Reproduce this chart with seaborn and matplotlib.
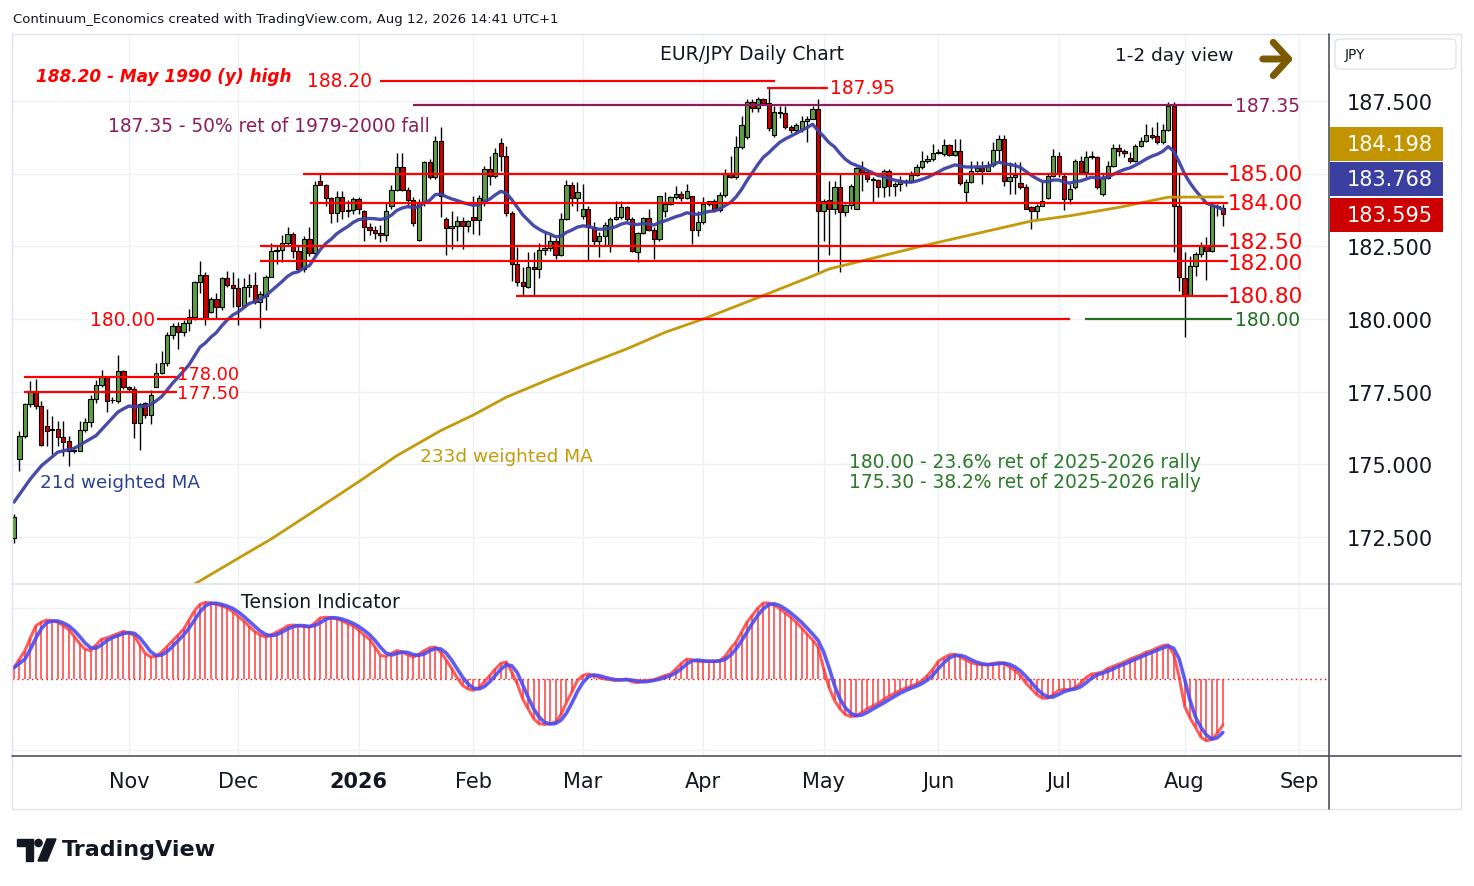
import numpy as np
import pandas as pd
import seaborn as sns
import matplotlib.pyplot as plt
from matplotlib import transforms
from matplotlib.lines import Line2D
from matplotlib.patches import Rectangle, FancyBboxPatch, FancyArrowPatch, Circle, Polygon
from matplotlib.ticker import FuncFormatter

sns.set_theme(style="white")
plt.rcParams['font.family'] = ['DejaVu Sans']

# ---------------- data (EUR/JPY daily) ----------------
open_ = [172.45, 175.18, 175.99, 177.08, 177.48, 177.00, 176.32, 176.22, 176.22, 175.93,
         175.80, 175.47, 175.45, 176.19, 176.44, 177.25, 177.73, 178.00, 177.20, 177.19,
         178.22, 177.65, 177.60, 176.42, 177.10, 176.70, 177.65, 178.14, 178.50, 179.45,
         179.75, 179.54, 179.86, 180.06, 181.27, 181.50, 180.24, 180.69, 180.40, 181.40,
         181.18, 181.07, 180.44, 181.09, 181.17, 180.57, 180.78, 181.43, 182.33, 182.37,
         182.60, 182.92, 182.33, 181.72, 182.75, 182.26, 184.74, 184.62, 184.15, 183.65,
         184.19, 183.76, 183.76, 184.13, 183.70, 183.18, 183.06, 182.96, 182.89, 183.90,
         184.44, 185.22, 184.44, 184.10, 182.73, 184.04, 185.39, 184.87, 186.13, 183.44,
         183.12, 183.19, 183.36, 183.21, 183.50, 183.42, 184.00, 185.16, 184.91, 186.04,
         185.60, 183.64, 181.89, 181.26, 181.09, 181.80, 181.72, 182.37, 182.43, 182.67,
         182.20, 183.43, 184.61, 184.15, 183.55, 183.80, 183.15, 182.67, 182.86, 182.52,
         183.44, 183.50, 183.84, 183.44, 182.29, 182.95, 183.46, 183.06, 182.75, 183.73,
         183.96, 184.19, 184.30, 184.15, 184.22, 183.07, 183.33, 183.96, 184.05, 183.76,
         184.27, 184.99, 184.87, 185.90, 186.26, 187.45, 187.26, 187.57, 187.42, 186.33,
         187.13, 187.08, 186.62, 186.50, 186.54, 186.80, 186.88, 187.22, 183.70, 184.09,
         183.78, 184.55, 183.67, 183.93, 183.80, 185.18, 185.05, 184.82, 184.79, 184.53,
         185.10, 184.56, 184.66, 184.70, 184.70, 184.95, 185.24, 185.42, 185.50, 185.70,
         185.67, 185.98, 185.64, 185.77, 184.36, 184.70, 185.08, 185.18, 185.10, 185.30,
         185.82, 186.19, 184.73, 184.87, 184.67, 184.55, 183.84, 183.73, 183.90, 184.15,
         184.93, 185.62, 184.93, 184.13, 184.53, 185.42, 185.05, 185.57, 185.57, 184.30,
         184.84, 185.26, 185.87, 185.78, 185.54, 185.42, 185.96, 186.11, 186.34, 186.30,
         186.08, 186.51, 187.32, 183.87, 181.40, 180.83, 181.81, 182.22, 182.52, 182.33,
         183.87, 183.82]

high = [173.30, 176.16, 177.10, 177.88, 177.94, 177.19, 176.90, 176.67, 176.50, 176.50,
        175.98, 175.60, 176.50, 176.60, 177.40, 177.90, 178.24, 178.05, 177.30, 178.77,
        178.25, 177.70, 177.70, 177.10, 177.15, 177.55, 178.50, 178.90, 179.55, 179.85,
        179.90, 179.98, 180.35, 181.30, 182.00, 181.60, 180.75, 180.90, 181.45, 181.65,
        181.60, 181.40, 181.40, 181.55, 181.60, 180.95, 181.50, 182.60, 182.56, 182.88,
        183.15, 183.00, 182.50, 182.85, 183.15, 184.75, 185.00, 184.65, 184.20, 184.40,
        184.40, 184.10, 184.20, 184.20, 183.75, 183.30, 183.20, 183.25, 183.98, 184.60,
        185.70, 185.70, 184.55, 184.20, 184.12, 185.45, 185.50, 186.30, 186.60, 183.50,
        183.70, 183.55, 183.50, 183.40, 184.24, 184.25, 185.25, 185.60, 185.88, 186.23,
        185.95, 183.70, 182.47, 181.79, 182.29, 182.29, 182.60, 183.00, 182.90, 182.80,
        183.65, 184.78, 184.70, 184.70, 184.64, 183.90, 183.33, 182.99, 183.33, 183.50,
        184.07, 184.07, 183.90, 183.50, 182.98, 183.50, 183.78, 183.15, 184.24, 184.36,
        184.24, 184.59, 184.42, 184.64, 184.24, 183.73, 184.19, 184.07, 184.13, 184.36,
        185.16, 185.62, 186.30, 186.99, 187.57, 187.57, 187.63, 187.60, 187.95, 187.34,
        187.34, 187.34, 186.68, 186.74, 187.00, 186.99, 187.34, 187.58, 184.13, 184.76,
        184.76, 185.00, 183.96, 184.64, 185.22, 185.45, 185.10, 184.87, 184.82, 185.16,
        185.16, 184.70, 184.93, 184.82, 185.10, 185.33, 185.77, 185.65, 186.02, 185.85,
        186.19, 186.02, 186.19, 186.19, 184.82, 185.45, 185.45, 185.45, 185.45, 186.08,
        186.33, 186.33, 185.39, 185.39, 185.39, 184.64, 183.90, 183.96, 184.76, 184.99,
        185.85, 185.73, 184.99, 184.64, 185.50, 185.62, 185.79, 185.79, 185.60, 184.99,
        185.45, 186.02, 186.02, 185.85, 185.73, 186.02, 186.25, 186.71, 186.60, 186.77,
        186.71, 187.45, 187.45, 185.00, 182.30, 182.18, 182.29, 182.64, 182.81, 183.90,
        183.96, 183.96]

low = [172.30, 174.78, 175.90, 176.97, 176.90, 175.62, 175.64, 175.36, 175.64, 175.30,
       174.95, 175.40, 175.45, 176.10, 176.30, 177.10, 177.65, 176.80, 177.10, 177.10,
       177.60, 177.50, 175.90, 175.48, 176.60, 176.40, 177.65, 178.10, 178.40, 179.30,
       178.96, 179.40, 179.60, 179.95, 180.90, 179.80, 180.20, 180.05, 180.30, 181.10,
       180.40, 179.80, 180.40, 180.75, 180.50, 179.70, 180.30, 181.43, 181.90, 181.95,
       182.55, 182.10, 181.65, 181.60, 182.15, 182.15, 184.60, 183.90, 183.30, 183.35,
       183.45, 183.50, 183.60, 183.60, 182.70, 182.90, 182.75, 182.65, 182.70, 183.80,
       184.40, 184.40, 183.90, 183.20, 182.70, 183.90, 184.80, 184.80, 183.50, 182.20,
       182.40, 182.70, 182.40, 183.00, 182.92, 182.90, 183.90, 184.60, 184.85, 185.10,
       183.55, 181.32, 181.15, 180.80, 181.05, 180.80, 181.40, 182.20, 182.35, 182.05,
       182.15, 183.40, 183.90, 183.70, 183.45, 182.00, 182.52, 182.13, 182.52, 182.30,
       183.40, 183.44, 183.38, 182.29, 181.95, 182.92, 183.04, 182.06, 182.69, 183.50,
       183.93, 184.13, 184.07, 184.13, 182.58, 182.87, 183.27, 183.90, 183.67, 183.67,
       184.19, 184.85, 184.82, 185.85, 186.19, 187.11, 187.11, 187.35, 186.48, 186.25,
       186.90, 186.55, 186.40, 186.35, 186.42, 186.08, 186.88, 181.55, 182.69, 182.20,
       183.60, 181.60, 183.55, 183.78, 183.78, 184.41, 184.70, 184.04, 184.19, 184.19,
       184.22, 184.22, 184.41, 184.56, 184.67, 184.93, 185.16, 185.36, 185.45, 185.67,
       185.62, 185.60, 185.62, 184.60, 184.04, 184.68, 185.05, 184.65, 185.10, 185.22,
       185.45, 184.58, 184.30, 184.30, 184.47, 183.78, 183.10, 183.44, 183.90, 184.13,
       184.87, 184.90, 183.76, 183.96, 184.47, 184.99, 184.87, 185.50, 184.47, 184.24,
       184.82, 185.22, 185.62, 185.56, 185.37, 185.40, 185.90, 186.08, 186.19, 186.02,
       186.02, 186.48, 182.30, 180.98, 179.37, 180.80, 181.49, 182.12, 181.35, 182.29,
       183.55, 183.19]

close = [173.19, 175.99, 177.08, 177.48, 177.02, 175.68, 176.16, 176.18, 175.93, 175.78,
         175.47, 175.50, 176.19, 176.44, 177.25, 177.73, 178.00, 177.19, 177.22, 178.22,
         177.65, 177.60, 176.42, 177.08, 176.70, 177.40, 178.14, 178.50, 179.45, 179.75,
         179.54, 179.86, 180.06, 181.27, 181.50, 180.03, 180.69, 180.40, 181.40, 181.18,
         181.07, 180.44, 181.09, 181.17, 180.57, 180.86, 181.43, 182.33, 182.37, 182.60,
         182.92, 182.33, 181.72, 182.75, 182.26, 184.62, 184.62, 184.15, 183.65, 184.19,
         183.73, 183.70, 184.13, 183.78, 183.18, 183.06, 182.96, 182.89, 183.73, 184.44,
         185.22, 184.44, 184.10, 183.30, 184.04, 185.39, 184.87, 186.13, 184.22, 183.12,
         183.20, 183.36, 183.21, 183.36, 183.42, 184.16, 185.16, 184.91, 185.71, 185.60,
         183.64, 181.89, 181.26, 181.15, 181.80, 181.72, 182.37, 182.43, 182.67, 182.20,
         183.43, 184.61, 184.15, 184.36, 183.80, 183.15, 182.67, 182.86, 183.24, 183.44,
         183.50, 183.84, 183.44, 182.35, 182.95, 183.46, 183.06, 182.75, 184.22, 183.96,
         184.19, 184.30, 184.15, 184.39, 183.07, 183.33, 183.96, 184.05, 183.76, 184.27,
         184.99, 184.87, 185.90, 186.67, 187.45, 187.26, 187.57, 187.42, 186.56, 187.13,
         187.08, 186.62, 186.51, 186.67, 186.80, 186.88, 187.22, 183.70, 184.07, 183.78,
         184.55, 183.67, 183.93, 184.58, 185.18, 185.05, 184.80, 184.78, 184.53, 185.10,
         184.56, 184.66, 184.70, 184.73, 184.95, 185.24, 185.42, 185.50, 185.70, 185.73,
         185.98, 185.64, 185.77, 184.67, 184.72, 185.08, 185.18, 185.10, 185.30, 185.82,
         186.19, 184.73, 184.87, 184.96, 184.55, 183.80, 183.73, 183.90, 184.07, 184.93,
         185.62, 184.99, 184.13, 184.47, 185.42, 185.05, 185.58, 185.60, 184.54, 184.84,
         185.25, 185.87, 185.77, 185.72, 185.45, 185.96, 186.11, 186.34, 186.25, 186.08,
         186.51, 187.32, 183.87, 181.46, 180.83, 181.81, 182.24, 182.52, 182.35, 183.87,
         183.85, 183.60]

tension = [0.16, 0.28, 0.40, 0.58, 0.75, 0.80, 0.83, 0.82, 0.80, 0.75,
           0.70, 0.60, 0.50, 0.42, 0.40, 0.48, 0.56, 0.58, 0.61, 0.64,
           0.67, 0.65, 0.61, 0.48, 0.36, 0.31, 0.32, 0.38, 0.46, 0.54,
           0.62, 0.70, 0.83, 0.96, 1.05, 1.08, 1.07, 1.05, 1.03, 1.00,
           0.95, 0.88, 0.82, 0.74, 0.67, 0.62, 0.59, 0.62, 0.66, 0.70,
           0.75, 0.76, 0.75, 0.74, 0.73, 0.79, 0.86, 0.87, 0.86, 0.85,
           0.82, 0.78, 0.75, 0.69, 0.62, 0.56, 0.45, 0.33, 0.32, 0.36,
           0.40, 0.38, 0.34, 0.31, 0.35, 0.40, 0.44, 0.45, 0.38, 0.27,
           0.15, 0.02, -0.09, -0.14, -0.16, -0.12, -0.04, 0.05, 0.14, 0.22,
           0.24, 0.10, -0.07, -0.28, -0.42, -0.56, -0.63, -0.64, -0.63, -0.61,
           -0.50, -0.33, -0.18, -0.02, 0.05, 0.07, 0.05, 0.02, 0.00, -0.01,
           -0.02, -0.01, 0.00, -0.04, -0.05, -0.03, -0.02, -0.01, 0.02, 0.05,
           0.07, 0.14, 0.22, 0.28, 0.27, 0.25, 0.25, 0.25, 0.25, 0.26,
           0.32, 0.43, 0.52, 0.66, 0.80, 0.90, 1.00, 1.07, 1.07, 1.04,
           0.99, 0.93, 0.87, 0.80, 0.72, 0.63, 0.55, 0.45, 0.15, -0.12,
           -0.30, -0.42, -0.50, -0.53, -0.52, -0.47, -0.42, -0.38, -0.34, -0.29,
           -0.24, -0.20, -0.16, -0.13, -0.10, -0.07, -0.02, 0.05, 0.14, 0.25,
           0.30, 0.34, 0.35, 0.31, 0.27, 0.23, 0.21, 0.20, 0.20, 0.22,
           0.23, 0.22, 0.17, 0.12, 0.05, -0.06, -0.14, -0.22, -0.27, -0.27,
           -0.22, -0.16, -0.15, -0.15, -0.12, -0.06, 0.02, 0.07, 0.08, 0.10,
           0.15, 0.18, 0.21, 0.24, 0.28, 0.31, 0.34, 0.38, 0.40, 0.44,
           0.47, 0.48, 0.35, 0.03, -0.38, -0.55, -0.68, -0.82, -0.87, -0.85,
           -0.76, -0.65]

# 21d weighted MA before a full window exists
wma21_head_idx = [0, 3, 5, 8, 11, 15, 19]
wma21_head_val = [173.70, 174.50, 174.95, 175.42, 175.55, 175.99, 176.80]

# 233d weighted MA
wma233_idx = [33, 41, 47, 55, 63, 70, 78, 84, 90, 98, 104, 112, 119, 126, 135,
              146, 149, 166, 186, 193, 202, 211, 221]
wma233_val = [170.88, 171.77, 172.43, 173.41, 174.40, 175.30, 176.16, 176.70, 177.31,
              177.94, 178.39, 178.97, 179.54, 180.00, 180.66, 181.48, 181.72, 182.51,
              183.37, 183.55, 183.84, 184.19, 184.20]

# ---------------- layout helpers (pixel geometry of the reference) ----------------
W, H = 1474, 887
BAR0, STEP = 14, 5.47          # pixel x of first bar, pixels per bar
PX_PER_YEN = 29.07


def fx(px):
    return px / W


def fy(py):
    return 1 - py / H


def bx(px):
    return (px - BAR0) / STEP


def pprice(py):
    return 180 + (320 - py) / PX_PER_YEN


RED = '#ff0000'
MAROON = '#8c1d5d'
DKGREEN = '#1f6f1f'
GOLD = '#c49a0a'
NAVY = '#3d42a3'
CGREEN = '#5e9e44'
CRED = '#cc0000'
TXT = '#131722'

fig = plt.figure(figsize=(W / 100, H / 100), dpi=100)
pix = transforms.Affine2D().scale(1 / W, -1 / H).translate(0, 1) + fig.transFigure

ax = fig.add_axes([fx(12), fy(585), fx(1329) - fx(12), fy(35) - fy(585)])
axt = fig.add_axes([fx(12), fy(757), fx(1329) - fx(12), fy(585) - fy(757)], sharex=ax)

# ---------------- candles ----------------
df = pd.DataFrame({'o': open_, 'h': high, 'l': low, 'c': close})
df['i'] = np.arange(len(df))
df['up'] = df['c'] >= df['o']
df['base'] = df[['o', 'c']].min(axis=1)
df['body'] = (df['c'] - df['o']).abs().clip(lower=0.03)

ax.vlines(df['i'], df['l'], df['h'], color='black', lw=1, zorder=4)
for up, col in [(True, CGREEN), (False, CRED)]:
    d = df[df['up'] == up]
    ax.bar(d['i'], d['body'], bottom=d['base'], width=0.78, color=col,
           edgecolor='black', linewidth=0.8, zorder=5)

# ---------------- moving averages ----------------
w = np.arange(1, 22)
wma21 = df['c'].rolling(21).apply(lambda s: np.dot(s, w) / w.sum(), raw=True)
ma21 = pd.concat([pd.Series(wma21_head_val, index=wma21_head_idx), wma21.iloc[20:]])
sns.lineplot(x=ma21.index, y=ma21.values, ax=ax, color=NAVY, linewidth=2.4,
             estimator=None, zorder=6, alpha=0.95)
sns.lineplot(x=wma233_idx, y=wma233_val, ax=ax, color=GOLD, linewidth=2.0,
             estimator=None, zorder=6)

# ---------------- horizontal levels ----------------
x_end = 1228
right_levels = [185.00, 184.00, 182.50, 182.00, 180.80]
right_starts = [303, 310, 260, 260, 516]
label_shift = [0, 0, 4, -2, 0]      # pixels up, to keep the close labels apart
for lv, xs, sh in zip(right_levels, right_starts, label_shift):
    ax.hlines(lv, bx(xs), bx(x_end), color=RED, lw=1.6, zorder=7)
    ax.text(bx(x_end), lv + sh / PX_PER_YEN, f'{lv:.2f}', color=RED, fontsize=15.5,
            va='center', ha='left', zorder=8)

ax.hlines(188.20, bx(380), bx(775), color=RED, lw=1.6, zorder=7)
ax.text(bx(372), 188.20, '188.20', color=RED, fontsize=13.4, va='center', ha='right')
ax.hlines(187.95, bx(767), bx(828), color=RED, lw=1.6, zorder=7)
ax.text(bx(830), 187.95, '187.95', color=RED, fontsize=13.4, va='center', ha='left')
ax.hlines(187.35, bx(413), bx(1232), color=MAROON, lw=1.6, zorder=7)
ax.text(bx(1235), 187.35, '187.35', color=MAROON, fontsize=13.4, va='center', ha='left')
ax.hlines(180.00, bx(157), bx(1070), color=RED, lw=1.6, zorder=7)
ax.text(bx(155), 180.00, '180.00', color=RED, fontsize=13.4, va='center', ha='right')
ax.hlines(180.00, bx(1085), bx(1232), color=DKGREEN, lw=1.6, zorder=7)
ax.text(bx(1235), 180.00, '180.00', color=DKGREEN, fontsize=13.4, va='center', ha='left')
for lv, sh in [(178.00, 3), (177.50, -1)]:
    ax.hlines(lv, bx(24), bx(177), color=RED, lw=1.6, zorder=7)
    ax.text(bx(177), lv + sh / PX_PER_YEN, f'{lv:.2f}', color=RED, fontsize=12.8,
            va='center', ha='left', zorder=8)

# ---------------- tension indicator ----------------
ts = pd.Series(tension)
signal = ts.rolling(3, min_periods=1).mean()
axt.vlines(df['i'], 0, ts, color='#ff3030', lw=1.3, alpha=0.8, zorder=3)
axt.axhline(0, color='#ff0000', lw=1, ls=(0, (1, 2.5)), zorder=2)
sns.lineplot(x=df['i'], y=ts, ax=axt, color='#ff3333', linewidth=2.2, alpha=0.8,
             estimator=None, zorder=4)
sns.lineplot(x=df['i'], y=signal, ax=axt, color='#4b4bf2', linewidth=2.6, alpha=0.9,
             estimator=None, zorder=5)

# ---------------- axes, ticks, grid ----------------
dates = pd.bdate_range('2025-10-03', '2026-09-30')
dates = dates[~dates.isin(pd.to_datetime(['2025-12-25', '2026-01-01']))]
pos = pd.Series(np.arange(len(dates)), index=dates)
first = pos.groupby([dates.year, dates.month]).min().iloc[1:]
month_idx = first.values.tolist()
month_lbl = ['2026' if m == 1 else pd.Timestamp(year=y, month=m, day=1).strftime('%b')
             for y, m in first.index]

ax.set_xlim(bx(12), bx(1329))
ax.set_ylim(pprice(585), pprice(35))
axt.set_ylim(-(757 - 680) / 71, (680 - 585) / 71)

ax.set_xticks(month_idx)
axt.set_xticklabels(month_lbl)
for lbl in axt.get_xticklabels():
    if lbl.get_text() == '2026':
        lbl.set_fontweight('bold')

ax.set_yticks([172.5, 175.0, 177.5, 180.0, 182.5, 185.0, 187.5])
ax.yaxis.tick_right()
ax.yaxis.set_major_formatter(FuncFormatter(lambda v, p: '' if abs(v - 185) < 0.01 else f'{v:.3f}'))
ax.tick_params(axis='y', length=0, pad=13, labelsize=15, labelcolor=TXT)
ax.tick_params(axis='x', length=0, labelbottom=False)
axt.set_yticks([-1, 1])
axt.tick_params(axis='y', length=0, labelleft=False, labelright=False)
axt.tick_params(axis='x', length=0, pad=11, labelsize=15, labelcolor=TXT)

for a in (ax, axt):
    a.grid(True, color='#edf0f5', lw=1)
    a.set_axisbelow(True)
    a.set_xlabel('')
    a.set_ylabel('')
    for s in a.spines.values():
        s.set_visible(False)

# ---------------- frame ----------------
fig.add_artist(Rectangle((12, 35), 1449, 775, transform=pix, fill=False, ec='#e0e3eb', lw=1))
fig.add_artist(Line2D([12, 1461], [585, 585], transform=pix, color='#e0e3eb', lw=1.2))
fig.add_artist(Line2D([12, 1461], [757, 757], transform=pix, color='#50535e', lw=1.2))
fig.add_artist(Line2D([1329, 1329], [35, 810], transform=pix, color='#50535e', lw=1.2))

# price boxes on the scale
for top, col, txt in [(128, '#c29400', '184.198'), (163, '#3b3fa0', '183.768'), (199, '#cc0000', '183.595')]:
    fig.add_artist(Rectangle((1330, top), 113, 34, transform=pix, color=col, lw=0))
    fig.text(1347, top + 17, txt, transform=pix, color='white', fontsize=15, va='center', ha='left')

fig.add_artist(FancyBboxPatch((1335, 40), 121, 30, transform=pix,
                              boxstyle='round,pad=0,rounding_size=5', fc='white', ec='#e0e3eb', lw=1))
fig.text(1345, 55, 'JPY', transform=pix, color=TXT, fontsize=10, va='center', ha='left')

# ---------------- annotations ----------------
fig.text(13, 19, 'Continuum_Economics created with TradingView.com, Aug 12, 2026 14:41 UTC+1',
         transform=pix, fontsize=9.5, color=TXT, va='center')
fig.text(752, 55, 'EUR/JPY Daily Chart', transform=pix, fontsize=13.5, color=TXT, va='center', ha='center')
fig.text(1115, 56, '1-2 day view', transform=pix, fontsize=13.3, color=TXT, va='center')
fig.add_artist(FancyArrowPatch((1260, 60), (1296, 60), transform=pix,
                               arrowstyle='->,head_length=0.55,head_width=0.6', mutation_scale=20,
                               lw=5, color='#7a5b00', capstyle='round', joinstyle='round'))
fig.text(36, 77, '188.20 - May 1990 (y) high', transform=pix, fontsize=12.2, color=RED,
         fontweight='bold', fontstyle='italic', va='center')
fig.text(108, 126, '187.35 - 50% ret of 1979-2000 fall', transform=pix, fontsize=13.4,
         color=MAROON, va='center')
fig.text(420, 457, '233d weighted MA', transform=pix, fontsize=13.3, color=GOLD, va='center')
fig.text(40, 483, '21d weighted MA', transform=pix, fontsize=13.2, color='#2c4192', va='center')
fig.text(849, 463, '180.00 - 23.6% ret of 2025-2026 rally', transform=pix, fontsize=13.4,
         color='#2a7a2a', va='center')
fig.text(849, 483, '175.30 - 38.2% ret of 2025-2026 rally', transform=pix, fontsize=13.4,
         color='#2a7a2a', va='center')
fig.text(241, 603, 'Tension Indicator', transform=pix, fontsize=13.5, color=TXT, va='center')

# TradingView logo
fig.add_artist(Polygon([(17, 840), (33, 840), (33, 862), (26, 862), (26, 847), (17, 847)],
                       closed=True, transform=pix, color=TXT))
fig.add_artist(Circle((38.5, 844), 3.6, transform=pix, color=TXT))
fig.add_artist(Polygon([(47, 840), (56, 840), (47, 862), (38, 862)], closed=True, transform=pix, color=TXT))
fig.text(62, 850, 'TradingView', transform=pix, fontsize=16, fontweight='bold', color=TXT, va='center')

fig.savefig('out.png', dpi=100, facecolor='white')
